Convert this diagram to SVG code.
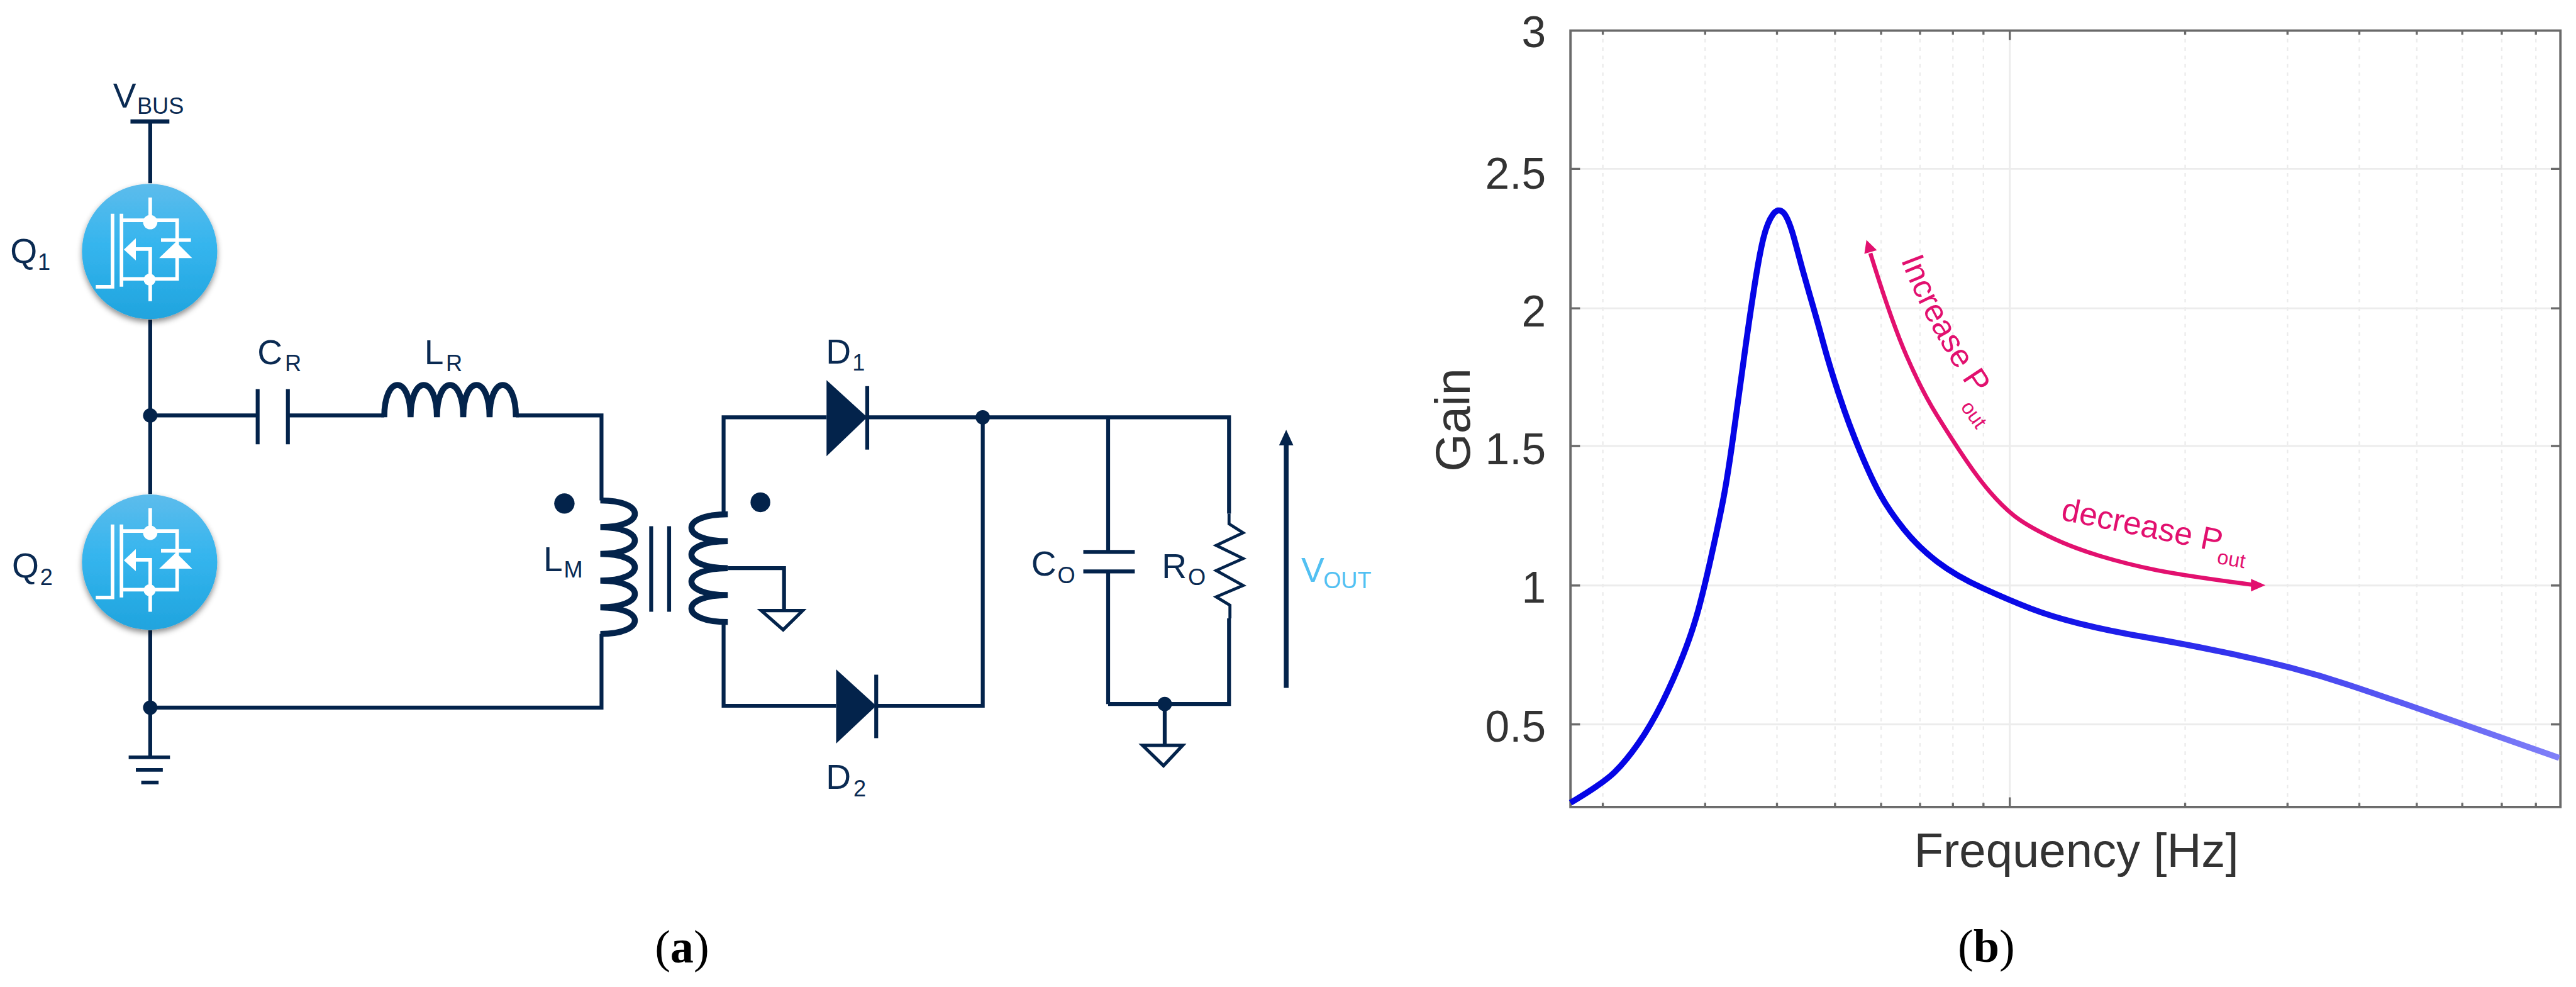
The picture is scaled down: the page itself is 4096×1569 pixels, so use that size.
<svg xmlns="http://www.w3.org/2000/svg" xmlns:xlink="http://www.w3.org/1999/xlink" width="4096" height="1569" viewBox="0 0 4096 1569">
<style>
.w{fill:none;stroke:#03234b;stroke-width:6.5;stroke-linejoin:miter}
.c{fill:none;stroke:#03234b;stroke-width:10}
.n{fill:#03234b;stroke:none}
.m{fill:none;stroke:#fff;stroke-width:6}
.mf{fill:#fff;stroke:none}
.t{font-family:"Liberation Sans",sans-serif;font-size:58px;fill:#0a2a52}
.s{font-size:38px}
.cap{font-family:"Liberation Serif",serif;font-size:78px;fill:#000}
.cap .b{font-weight:bold}
.p{font-family:"Liberation Sans",sans-serif;fill:#333}
.y{font-size:73px;text-anchor:end}
.pk{font-family:"Liberation Sans",sans-serif;fill:#e2106f;font-size:54px}
.gh{stroke:#ececec;stroke-width:3;fill:none}
.gv{stroke:#ececec;stroke-width:2.5;stroke-dasharray:6 8;fill:none}
.fr{stroke:#6a6a6a;stroke-width:4;fill:none}
.tk{stroke:#6a6a6a;stroke-width:3.5;fill:none}
</style>
<defs>
<linearGradient id="qg" x1="0" y1="0" x2="0" y2="1"><stop offset="0" stop-color="#5dbcec"/><stop offset="0.45" stop-color="#35b5ee"/><stop offset="1" stop-color="#20a4de"/></linearGradient>
<linearGradient id="bl2" gradientUnits="userSpaceOnUse" x1="2624" y1="0" x2="4278" y2="0"><stop offset="0" stop-color="#0505e6"/><stop offset="0.42" stop-color="#0505e6"/><stop offset="0.7" stop-color="#3a3aee"/><stop offset="1" stop-color="#8080f8"/></linearGradient>
<filter id="sh" x="-20%" y="-20%" width="140%" height="140%"><feDropShadow dx="0" dy="5" stdDeviation="5" flood-color="#000" flood-opacity="0.45"/></filter>
<g id="mosfet">
<circle cx="250" cy="420" r="113" fill="url(#qg)" filter="url(#sh)"/>
<path class="m" d="M251,330V368M205,368H296V466H205M251,467V503M203,357V479M188,357V479H160M227,416H251V467"/>
<circle class="mf" cx="251" cy="371" r="12"/>
<circle class="mf" cx="250" cy="467" r="10"/>
<path class="mf" d="M207,417L227,398V435Z"/>
<path class="m" d="M269,401H319"/>
<path class="mf" d="M294,404L321,431H266Z"/>
</g>
</defs>
<rect width="4096" height="1569" fill="#fff"/>
<g transform="scale(0.95167)">
<g id="connectors">
<path class="w" d="M251,203V306M251,534V825M251,1053V1265"/>
<path class="w" d="M251,694H430M481,694H642M862,694H1005V836M1005,1059V1182H251"/>
<path class="w" d="M1209,859V697H1381M1209,1039V1179H1397M1449,697H2053.5V858M1464,1179H1642V697"/>
<path class="w" d="M1851.5,697V922M1851.5,954V1176M2053.5,1033V1176H1851.5M1946,1176V1245M1216,949H1310V1020"/>
</g>
<g id="node-vbus"><path class="w" style="stroke-width:7" d="M218,203H283"/>
<text class="t" x="189" y="180">V<tspan class="s" x="229" y="190">BUS</tspan></text></g>
<g id="node-q1"><use xlink:href="#mosfet" href="#mosfet"/>
<text class="t" x="17" y="439">Q<tspan class="s" x="63" y="451">1</tspan></text></g>
<g id="node-q2"><use xlink:href="#mosfet" href="#mosfet" transform="translate(0,519)"/>
<text class="t" x="20" y="965">Q<tspan class="s" x="67" y="977">2</tspan></text></g>
<g id="node-j1"><circle class="n" cx="251" cy="694" r="12"/></g>
<g id="node-j2"><circle class="n" cx="251" cy="1182" r="12"/></g>
<g id="node-gnd1"><path class="w" style="stroke-width:6" d="M215,1265H284M227,1286H272M236,1307H265"/></g>
<g id="node-cr"><path class="w" d="M430.5,650V742M481,650V742"/>
<text class="t" x="430" y="608">C<tspan class="s" x="476" y="620">R</tspan></text></g>
<g id="node-lr"><path class="c" d="M642,697C642,625 686,625 686,697M686,697C686,625 730,625 730,697M730,697C730,625 774,625 774,697M774,697C774,625 818,625 818,697M818,697C818,625 862,625 862,697"/>
<text class="t" x="709" y="608">L<tspan class="s" x="745" y="620">R</tspan></text></g>
<g id="node-lm"><path class="c" d="M1003,836C1080,836 1080,880.600 1003,880.600C1080,880.600 1080,925.200 1003,925.200C1080,925.200 1080,969.800 1003,969.800C1080,969.800 1080,1014.400 1003,1014.400C1080,1014.400 1080,1059 1003,1059"/>
<circle class="n" cx="943" cy="841" r="17"/>
<text class="t" x="908" y="954">L<tspan class="s" x="942" y="965">M</tspan></text></g>
<g id="node-core"><path class="w" d="M1088,879V1022M1118,879V1022"/></g>
<g id="node-sec"><path class="c" d="M1216,859C1135,859 1135,904 1216,904C1135,904 1135,949 1216,949C1135,949 1135,994 1216,994C1135,994 1135,1039 1216,1039"/>
<circle class="n" cx="1270.500" cy="839" r="16.500"/></g>
<g id="node-gnd2"><path class="w" style="stroke-width:5.500" d="M1272,1020H1341L1308.500,1052Z"/></g>
<g id="node-d1"><path class="n" d="M1381,635L1449,697L1381,762Z"/><path class="w" d="M1449,645V751"/>
<text class="t" x="1380" y="607">D<tspan class="s" x="1424" y="619">1</tspan></text></g>
<g id="node-d2"><path class="n" d="M1397,1118L1464,1179L1397,1242Z"/><path class="w" d="M1464,1127V1233"/>
<text class="t" x="1380" y="1318">D<tspan class="s" x="1426" y="1330">2</tspan></text></g>
<g id="node-j3"><circle class="n" cx="1642" cy="697" r="12"/></g>
<g id="node-co"><path class="w" d="M1810,922H1896M1810,954.500H1896"/>
<text class="t" x="1723" y="961">C<tspan class="s" x="1767" y="974">O</tspan></text></g>
<g id="node-ro"><path class="w" style="stroke-width:5" d="M2053.500,858V875L2077,890L2032,911L2077,933L2032,953L2077,978L2032,997L2055,1011V1033"/>
<text class="t" x="1941" y="966">R<tspan class="s" x="1985" y="977">O</tspan></text></g>
<g id="node-j4"><circle class="n" cx="1946" cy="1176" r="12"/></g>
<g id="node-gnd3"><path class="w" style="stroke-width:5.500" d="M1909,1245H1976L1944,1279Z"/></g>
<g id="node-vout"><path class="w" style="stroke-width:8" d="M2149,1149V740"/><path class="n" d="M2149,718L2161,744H2137Z"/>
<text class="t" style="fill:#52c0f2" x="2174" y="972">V<tspan class="s" x="2211" y="983">OUT</tspan></text></g>
<text class="cap" x="1094" y="1608">(<tspan class="b">a</tspan>)</text>

<g id="plot">
<path class="gh" d="M2640,282H4262M2640,515H4262M2640,745H4262M2640,978H4262M2640,1210H4262"/>
<path class="gv" d="M2678,51V1348M2849,51V1348M2969,51V1348M3066,51V1348M3143,51V1348M3208,51V1348M3263,51V1348M3314,51V1348M3651,51V1348M3822,51V1348M3942,51V1348M4038,51V1348M4114,51V1348M4180,51V1348M4237,51V1348"/>
<path class="gh" d="M3358,51V1348"/>
<path class="tk" d="M2624,282H2640M2624,515H2640M2624,745H2640M2624,978H2640M2624,1210H2640M4278,282H4262M4278,515H4262M4278,745H4262M4278,978H4262M4278,1210H4262"/>
<path class="tk" d="M2678,51V58M2849,51V58M2969,51V58M3066,51V58M3143,51V58M3208,51V58M3263,51V58M3314,51V58M3358,51V67M3651,51V58M3822,51V58M3942,51V58M4038,51V58M4114,51V58M4180,51V58M4237,51V58"/>
<path class="tk" d="M2678,1348V1341M2849,1348V1341M2969,1348V1341M3066,1348V1341M3143,1348V1341M3208,1348V1341M3263,1348V1341M3314,1348V1341M3358,1348V1332M3651,1348V1341M3822,1348V1341M3942,1348V1341M4038,1348V1341M4114,1348V1341M4180,1348V1341M4237,1348V1341"/>
<path class="fr" d="M2624,51H4278V1348H2624Z"/>
<text class="p y" x="2583" y="79">3</text>
<text class="p y" x="2583" y="315">2.5</text>
<text class="p y" x="2583" y="545">2</text>
<text class="p y" x="2583" y="776">1.5</text>
<text class="p y" x="2583" y="1007">1</text>
<text class="p y" x="2583" y="1239">0.5</text>
<text class="p" font-size="82" transform="translate(2456,788) rotate(-90)">Gain</text>
<text class="p" font-size="80" x="3198" y="1448">Frequency [Hz]</text>
<path id="gain-curve" fill="none" stroke="url(#bl2)" stroke-width="10" d="M2624,1341Q2678,1309 2697.500,1290Q2717,1271 2737.500,1241.500Q2758,1212 2777,1174Q2796,1136 2812,1095Q2828,1054 2837.500,1019Q2847,984 2858.500,932.500Q2870,881 2878,840.500Q2886,800 2895.500,731.500Q2905,663 2914,597Q2923,531 2931.500,477Q2940,423 2946.500,397Q2953,371 2962,358.500Q2971,346 2980,355.500Q2989,365 3000,407Q3011,449 3023,490Q3035,531 3046,571.500Q3057,612 3073,660.500Q3089,709 3108,754.500Q3127,800 3142,827Q3157,854 3181,884Q3205,914 3236.500,938Q3268,962 3313,982.500Q3358,1003 3393,1016.500Q3428,1030 3476,1042Q3524,1054 3588,1065Q3652,1076 3716,1089.500Q3780,1103 3828,1115.500Q3876,1128 3924,1144Q3972,1160 4046,1185.500Q4120,1211 4198,1238.500L4276,1266"/>
<path fill="none" stroke="#e2106f" stroke-width="7" d="M3125,423Q3160,536 3185.500,594.500Q3211,653 3236.500,694Q3262,735 3284,767.500Q3306,800 3325.500,822.500Q3345,845 3364,860.500Q3383,876 3421.500,895Q3460,914 3508,928.500Q3556,943 3604,952.500Q3652,962 3765,977"/>
<path fill="#e2106f" d="M3118.500,401L3136,418L3115,424Z"/>
<path fill="#e2106f" d="M3785,977.500L3761,967L3761,988Z"/>
<path id="incp" fill="none" stroke="none" d="M3176,434Q3215,540 3300,665"/>
<text class="pk"><textPath href="#incp" xlink:href="#incp">Increase P</textPath></text>
<text class="pk" style="font-size:34px" transform="translate(3275,680) rotate(54)">out</text>
<text class="pk" transform="translate(3442,868) rotate(11.500)">decrease P</text>
<text class="pk" style="font-size:34px" transform="translate(3703,941) rotate(10)">out</text>
</g>
<text class="cap" x="3271" y="1607">(<tspan class="b">b</tspan>)</text>
</g>
</svg>
